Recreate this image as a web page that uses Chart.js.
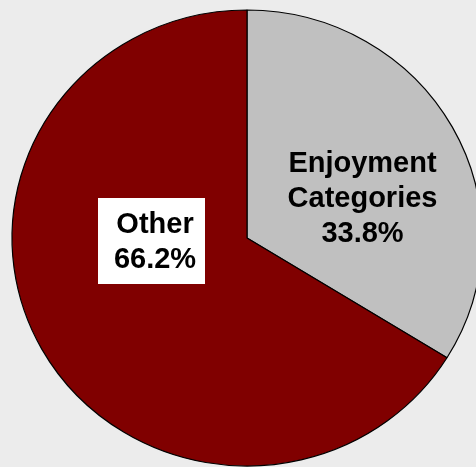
<!DOCTYPE html>
<html><head><meta charset="utf-8">
<script src="https://cdn.jsdelivr.net/npm/chart.js@4/dist/chart.umd.min.js"></script>
<style>
html,body{margin:0;padding:0;background:#ececec;overflow:hidden;width:476px;height:467px;}
#wrap{position:absolute;left:0;top:0;width:494px;height:476px;}
</style></head><body>
<div id="wrap"><canvas id="c"></canvas></div>
<script>
const categories = ["Enjoyment Categories", "Other"];
const labelLines = [["Enjoyment", "Categories"], ["Other"]];
const shares = [33.8, 66.2];
const sliceColors = ["#c0c0c0", "#800000"];

const yScale = 228 / 235;

const ellipsePlugin = {
  id: 'ellipse',
  beforeDatasetsDraw(chart) {
    const a = chart.getDatasetMeta(0).data[0];
    const ctx = chart.ctx;
    ctx.save();
    ctx.translate(a.x, a.y);
    ctx.scale(1, yScale);
    ctx.translate(-a.x, -a.y);
  },
  afterDatasetsDraw(chart) {
    chart.ctx.restore();
  }
};

const labelPlugin = {
  id: 'labels',
  afterDraw(chart) {
    const ctx = chart.ctx;
    const a = chart.getDatasetMeta(0).data[0];
    const cx = a.x, cy = a.y;
    ctx.save();
    ctx.font = "bold 29px 'Liberation Sans', Arial, sans-serif";
    ctx.textAlign = 'center';
    ctx.textBaseline = 'alphabetic';
    ctx.fillStyle = '#000';
    const l0 = labelLines[0].concat([shares[0].toFixed(1) + '%']);
    const b0 = [-66, -31, 4];
    l0.forEach((t, i) => ctx.fillText(t, cx + 115.5, cy + b0[i]));
    ctx.fillStyle = '#ffffff';
    ctx.fillRect(cx - 149, cy - 40, 107, 86);
    ctx.fillStyle = '#000';
    const l1 = labelLines[1].concat([shares[1].toFixed(1) + '%']);
    const b1 = [-5, 30];
    l1.forEach((t, i) => ctx.fillText(t, cx - 92, cy + b1[i]));
    ctx.restore();
  }
};

new Chart(document.getElementById('c'), {
  type: 'pie',
  data: {
    labels: categories,
    datasets: [{
      data: shares,
      backgroundColor: sliceColors,
      borderColor: '#000000',
      borderWidth: 1.2,
      borderAlign: 'center'
    }]
  },
  options: {
    responsive: true,
    maintainAspectRatio: false,
    animation: false,
    radius: 235,
    layout: { padding: 0 },
    plugins: { legend: { display: false }, tooltip: { enabled: false } },
    events: []
  },
  plugins: [ellipsePlugin, labelPlugin]
});
</script>
</body></html>
